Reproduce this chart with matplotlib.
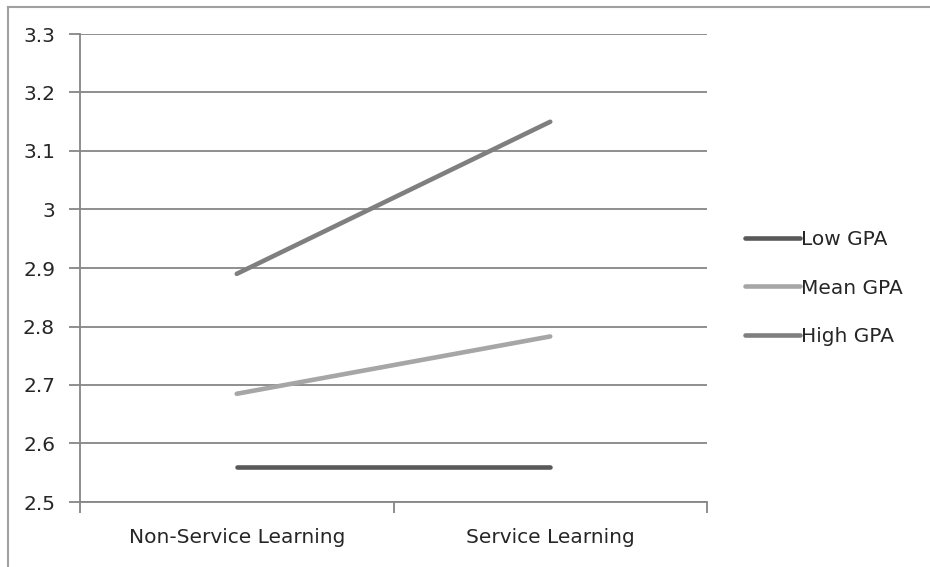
import matplotlib
matplotlib.use("Agg")
import matplotlib.pyplot as plt
from matplotlib.lines import Line2D

plt.rcParams['font.family'] = ['DejaVu Sans']

categories = ["Non-Service Learning", "Service Learning"]
series_names = ["Low GPA", "Mean GPA", "High GPA"]
low_gpa = [2.56, 2.56]
mean_gpa = [2.685, 2.783]
high_gpa = [2.89, 3.15]
y_ticks = [2.5, 2.6, 2.7, 2.8, 2.9, 3.0, 3.1, 3.2, 3.3]
y_tick_labels = ["2.5", "2.6", "2.7", "2.8", "2.9", "3", "3.1", "3.2", "3.3"]

colors = ["#595959", "#a6a6a6", "#7f7f7f"]
grid_color = "#868686"
text_color = "#262626"
fs = 14.5

W, H = 930, 567
fig = plt.figure(figsize=(W / 100, H / 100), dpi=100)
ax = fig.add_axes([80 / W, 1 - 502 / H, (707 - 80) / W, (502 - 34) / H])

x = list(range(len(categories)))
for name, vals, c in zip(series_names, [low_gpa, mean_gpa, high_gpa], colors):
    ax.plot(x, vals, color=c, lw=3.3, solid_capstyle="round", label=name)

ax.set_xlim(-0.5, len(categories) - 0.5)
ax.set_ylim(2.5, 3.3)
ax.set_yticks(y_ticks)
ax.set_yticklabels(y_tick_labels)
ax.yaxis.grid(True, color=grid_color, lw=1.3)
ax.set_axisbelow(True)

ax.set_xticks(x)
ax.set_xticklabels(categories)
ax.tick_params(axis="x", which="major", length=0, pad=19, labelsize=fs, labelcolor=text_color)
ax.set_xticks([-0.5, 0.5, 1.5], minor=True)
ax.tick_params(axis="x", which="minor", length=8, width=1.3, color=grid_color)
ax.tick_params(axis="y", length=8, width=1.3, color=grid_color, pad=10,
               labelsize=fs, labelcolor=text_color)

for s in ["top", "right"]:
    ax.spines[s].set_visible(False)
for s in ["left", "bottom"]:
    ax.spines[s].set_color(grid_color)
    ax.spines[s].set_linewidth(1.3)

leg = ax.legend(loc="center left", bbox_to_anchor=(727 / W, 1 - 288 / H),
                bbox_transform=fig.transFigure, frameon=False,
                handlelength=2.7, handletextpad=0.05, labelspacing=1.45,
                fontsize=fs)
for t in leg.get_texts():
    t.set_color(text_color)

# chart area outline
border = "#a0a0a0"
fig.add_artist(Line2D([8 / W, 1.0], [1 - 7 / H, 1 - 7 / H], transform=fig.transFigure,
                      color=border, lw=1.5))
fig.add_artist(Line2D([8 / W, 8 / W], [0.0, 1 - 7 / H], transform=fig.transFigure,
                      color=border, lw=1.5))

fig.savefig("out.png", dpi=100)
